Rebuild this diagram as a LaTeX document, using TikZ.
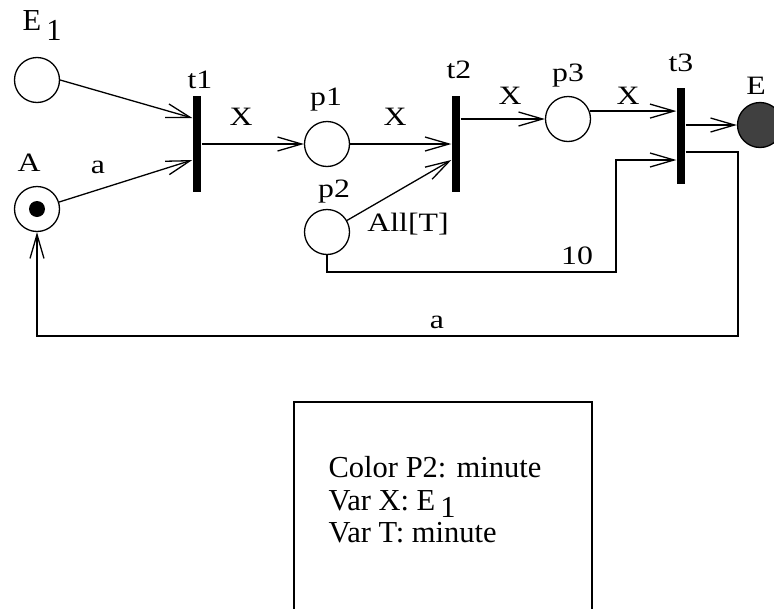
\documentclass[tikz,border=0pt]{standalone}
\usepackage{fontspec}
\setmainfont{Liberation Serif}
\newfontfamily\lblfont[FakeStretch=1.2]{Liberation Serif}
\usetikzlibrary{arrows.meta,calc}
\begin{document}
\begin{tikzpicture}[x=1pt,y=-1pt,line width=1.3pt,
  place/.style={circle,draw,minimum size=45pt,inner sep=0pt,line width=1.3pt},
  trans/.style={rectangle,fill=black,minimum width=8pt,minimum height=96pt,inner sep=0pt},
  arr/.style={-{Straight Barb[length=24pt,width=14pt,line width=1.3pt]}},
  lbl/.style={font=\lblfont\fontsize{26.5}{28}\selectfont,inner sep=0pt},
  big/.style={font=\fontsize{30.5}{32.5}\selectfont,inner sep=0pt}]
\useasboundingbox (0,0) rectangle (774,608);

% places
\node[place] (E1) at (37,80) {};
\node[place] (A) at (37,209) {};
\fill (A.center) circle (8pt);
\node[place] (p1) at (327,144) {};
\node[place] (p2) at (327,232) {};
\node[place] (p3) at (568,119) {};
\node[place,fill=black!75] (E) at (760,125) {};

% transitions
\node[trans] (t1) at (197,144) {};
\node[trans] (t2) at (456,143.5) {};
\node[trans] (t3) at (681,136) {};

% labels
\node[big,anchor=base west] (lE1) at (22,30) {E\raisebox{-10pt}{\,1}};
\node[lbl] (lA) at (29,163) {A};
\node[lbl] (la1) at (98,167) {a};
\node[lbl] (lt1) at (200,80) {t1};
\node[lbl] (lX1) at (241,117) {X};
\node[lbl] (lp1) at (326,100) {p1};
\node[lbl] (lX2) at (395,117) {X};
\node[lbl] (lt2) at (459,70) {t2};
\node[lbl] (lp2) at (334,192) {p2};
\node[lbl] (lall) at (408,224) {All[T]};
\node[lbl] (lX3) at (510,96) {X};
\node[lbl] (lp3) at (568,76) {p3};
\node[lbl] (lX4) at (628,96) {X};
\node[lbl] (lt3) at (681,63) {t3};
\node[lbl] (lE) at (756,86) {E};
\node[lbl] (l10) at (577,256) {10};
\node[lbl] (la2) at (437,322) {a};

% coordinates for bends
\coordinate (k1) at (616,272);
\coordinate (k2) at (738,336);

% arcs
\draw[arr] (E1.east) -- ([yshift=26pt]t1.west);
\draw[arr] (A) -- ([yshift=-16pt]t1.west);
\draw[arr] (t1.east) -- (p1.west);
\draw[arr] (p1.east) -- (t2.west |- p1.east);
\draw[arr] (p2) -- ([yshift=-16.5pt]t2.west);
\draw[arr] (t2.east |- p3.west) -- (p3.west);
\draw[arr] (p3.20) -- (t3.west |- p3.20);
\draw[arr] (t3.east |- E.west) -- (E.west);
\draw[arr] (p2.south) |- (k1) |- ([yshift=-24pt]t3.west);
\draw[arr] ([yshift=-16pt]t3.east) -| (k2) -| (A.south);

% declarations box
\node[draw,line width=1.2pt,minimum width=298pt,minimum height=220pt,inner sep=0pt] (decl) at (443,512) {};
\node[big,anchor=north west,align=left] (decltext) at (328,456)
  {Color P2: minute\\Var X: E\raisebox{-7pt}{\,1}\\Var T: minute};
\end{tikzpicture}
\end{document}
